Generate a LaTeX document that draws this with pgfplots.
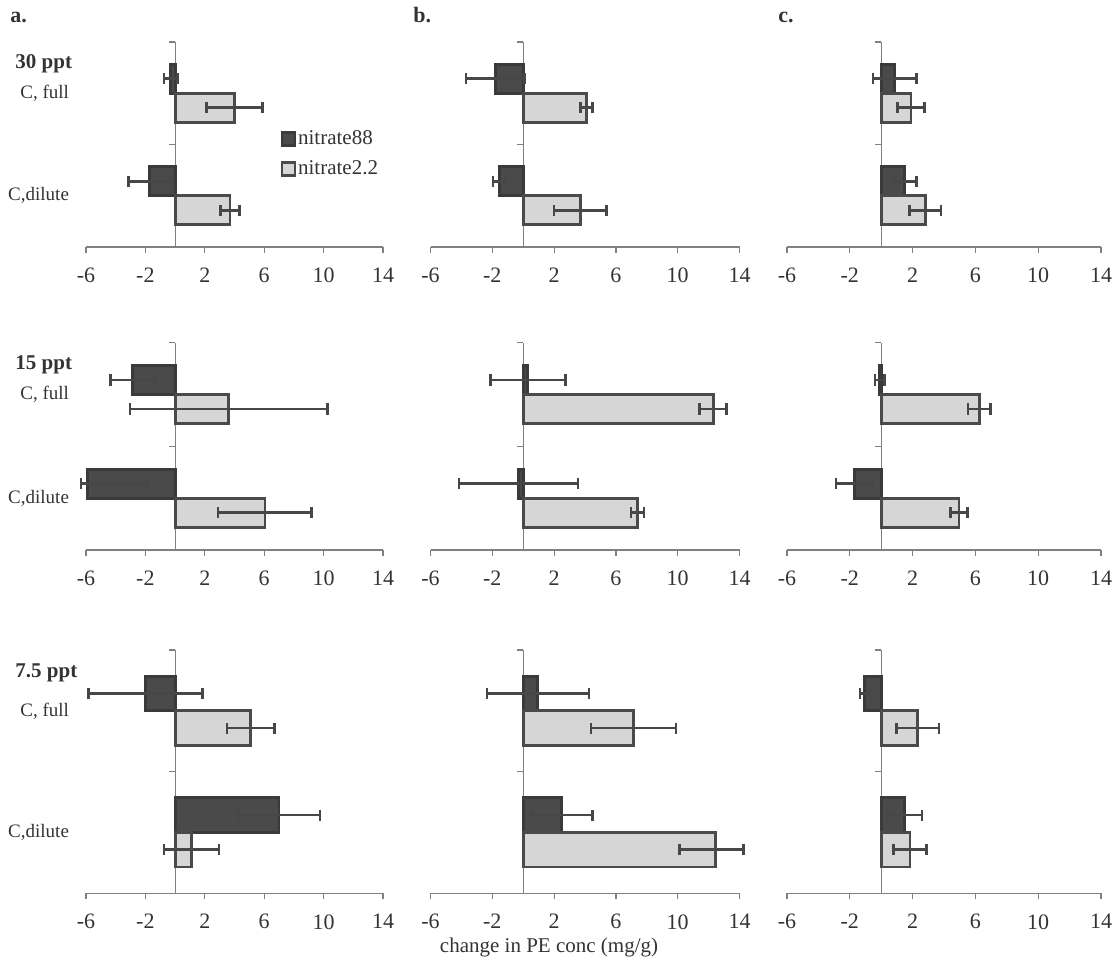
\documentclass[border=0pt]{standalone}
\usepackage{fontspec}
\setmainfont{Liberation Serif}
\usepackage{pgfplots}
\pgfplotsset{compat=1.18}
\definecolor{darkfill}{HTML}{4A4A4A}
\definecolor{darkline}{HTML}{3A3A3A}
\definecolor{lightfill}{HTML}{D6D6D6}
\definecolor{lightline}{HTML}{4A4A4A}
\definecolor{errcol}{HTML}{474747}
\definecolor{axcol}{HTML}{808080}
\definecolor{txtcol}{HTML}{333333}
\pgfplotsset{
 panel/.style={
   scale only axis, xbar, clip=false,
   xmin=-6, xmax=14, ymin=-0.5, ymax=1.5,
   axis x line*=bottom, axis y line*=left,
   y axis line style={draw=none},
   x axis line style={draw=axcol, line width=0.6pt, -},
   xtick={-6,-2,2,6,10,14}, xticklabels={-6,-2,2,6,10,14},
   tick align=outside, major tick length=3pt,
   xtick style={draw=axcol, line width=0.6pt},
   ytick={0,1}, yticklabels={}, ytick style={draw=none},
   xticklabel style={font=\fontsize{11}{13}\selectfont, text=txtcol, yshift=-4pt},
   yticklabel style={font=\fontsize{9.5}{11}\selectfont, text=txtcol, xshift=-2pt},
 },
 n88/.style={draw=darkline, fill=darkfill, line width=1.4pt, bar shift=#1, bar width=2*#1,
   error bars/.cd, x dir=both, x explicit, error mark=|,
   error bar style={line width=1.3pt, draw=errcol, solid},
   error mark options={line width=1.3pt, draw=errcol, mark size=2.8pt}},
 n22/.style={draw=lightline, fill=lightfill, line width=1.4pt, bar shift=-#1, bar width=2*#1,
   error bars/.cd, x dir=both, x explicit, error mark=|,
   error bar style={line width=1.3pt, draw=errcol, solid},
   error mark options={line width=1.3pt, draw=errcol, mark size=2.8pt}},
}
\newcommand{\yax}{\draw[axcol, line width=0.6pt] (axis cs:0,-0.5) -- (axis cs:0,1.5);
  \draw[axcol, line width=0.6pt] (axis cs:0,0.5) -- ++(-3pt,0pt);
  \draw[axcol, line width=0.6pt] (axis cs:0,1.5) -- ++(-3pt,0pt);}
\begin{document}
\begin{tikzpicture}
\useasboundingbox (0,0) rectangle (559.5pt,480pt);
% ---------------- Row 1: 30 ppt
\begin{axis}[panel, at={(43pt,356.5pt)}, anchor=south west, width=148.5pt, height=102.5pt,
  yticklabels={{C,dilute},{C, full}},
  legend style={at={(rel axis cs:0.655,0.58)}, anchor=north west, draw=none, fill=none,
    font=\fontsize{10.5}{12}\selectfont, text=txtcol, row sep=4.5pt, inner sep=0pt,
    nodes={inner sep=1pt}},
  legend cell align=left,
  legend image code/.code={\draw[#1, line width=1.2pt] (0pt,-3.2pt) rectangle (6.4pt,3.2pt);}]
\yax
\addplot[n88=7.25pt] coordinates {(-0.3,1) +- (0.45,0) (-1.7,0) +- (1.45,0)};
\addplot[n22=7.25pt] coordinates {(4.0,1) +- (1.9,0) (3.7,0) +- (0.65,0)};
\legend{nitrate88,nitrate2.2}
\end{axis}
\begin{axis}[panel, at={(215.25pt,356.5pt)}, anchor=south west, width=154.5pt, height=102.5pt]
\yax
\addplot[n88=7.25pt] coordinates {(-1.8,1) +- (1.9,0) (-1.55,0) +- (0.4,0)};
\addplot[n22=7.25pt] coordinates {(4.1,1) +- (0.38,0) (3.7,0) +- (1.7,0)};
\end{axis}
\begin{axis}[panel, at={(393.5pt,356.5pt)}, anchor=south west, width=157pt, height=102.5pt]
\yax
\addplot[n88=7.25pt] coordinates {(0.85,1) +- (1.38,0) (1.5,0) +- (0.75,0)};
\addplot[n22=7.25pt] coordinates {(1.9,1) +- (0.85,0) (2.8,0) +- (1.0,0)};
\end{axis}
% ---------------- Row 2: 15 ppt
\begin{axis}[panel, at={(43pt,205pt)}, anchor=south west, width=148.5pt, height=103.65pt,
  yticklabels={{C,dilute},{C, full}}]
\yax
\addplot[n88=7.25pt] coordinates {(-2.85,1) +- (1.5,0) (-5.9,0) += (4.06,0) -= (0.45,0)};
\addplot[n22=7.25pt] coordinates {(3.6,1) +- (6.65,0) (6.05,0) +- (3.15,0)};
\end{axis}
\begin{axis}[panel, at={(215.25pt,205pt)}, anchor=south west, width=154.5pt, height=103.65pt]
\yax
\addplot[n88=7.25pt] coordinates {(0.3,1) +- (2.43,0) (-0.3,0) +- (3.85,0)};
\addplot[n22=7.25pt] coordinates {(12.3,1) +- (0.87,0) (7.4,0) +- (0.43,0)};
\end{axis}
\begin{axis}[panel, at={(393.5pt,205pt)}, anchor=south west, width=157pt, height=103.65pt]
\yax
\addplot[n88=7.25pt] coordinates {(-0.1,1) +- (0.3,0) (-1.7,0) +- (1.17,0)};
\addplot[n22=7.25pt] coordinates {(6.25,1) +- (0.72,0) (4.95,0) +- (0.55,0)};
\end{axis}
% ---------------- Row 3: 7.5 ppt
\begin{axis}[panel, at={(43pt,33.35pt)}, anchor=south west, width=148.5pt, height=121.65pt,
  yticklabels={{C,dilute},{C, full}}]
\yax
\addplot[n88=8.65pt] coordinates {(-2.0,1) +- (3.85,0) (7.0,0) +- (2.75,0)};
\addplot[n22=8.65pt] coordinates {(5.1,1) +- (1.6,0) (1.1,0) +- (1.85,0)};
\end{axis}
\begin{axis}[panel, at={(215.25pt,33.35pt)}, anchor=south west, width=154.5pt, height=121.65pt]
\yax
\addplot[n88=8.65pt] coordinates {(0.95,1) +- (3.3,0) (2.5,0) +- (2.0,0)};
\addplot[n22=8.65pt] coordinates {(7.15,1) +- (2.75,0) (12.45,0) += (1.8,0) -= (2.35,0)};
\end{axis}
\begin{axis}[panel, at={(393.5pt,33.35pt)}, anchor=south west, width=157pt, height=121.65pt]
\yax
\addplot[n88=8.65pt] coordinates {(-1.05,1) +- (0.3,0) (1.5,0) +- (1.1,0)};
\addplot[n22=8.65pt] coordinates {(2.33,1) +- (1.34,0) (1.83,0) +- (1.05,0)};
\end{axis}
% ---------------- labels
\node[anchor=base west, font=\bfseries\fontsize{11}{13}\selectfont, text=txtcol, inner sep=0pt] at (5pt,468.5pt) {a.};
\node[anchor=base west, font=\bfseries\fontsize{11}{13}\selectfont, text=txtcol, inner sep=0pt] at (206.5pt,468.5pt) {b.};
\node[anchor=base west, font=\bfseries\fontsize{11}{13}\selectfont, text=txtcol, inner sep=0pt] at (389pt,468.5pt) {c.};
\node[anchor=base west, font=\bfseries\fontsize{10.5}{12}\selectfont, text=txtcol, inner sep=0pt] at (7.5pt,445.5pt) {30 ppt};
\node[anchor=base west, font=\bfseries\fontsize{10.5}{12}\selectfont, text=txtcol, inner sep=0pt] at (7.5pt,295pt) {15 ppt};
\node[anchor=base west, font=\bfseries\fontsize{10.5}{12}\selectfont, text=txtcol, inner sep=0pt] at (7.5pt,141.5pt) {7.5 ppt};
\node[anchor=base, font=\fontsize{10.5}{12}\selectfont, text=txtcol, inner sep=0pt] at (274.5pt,4pt) {change in PE conc (mg/g)};
\end{tikzpicture}
\end{document}
